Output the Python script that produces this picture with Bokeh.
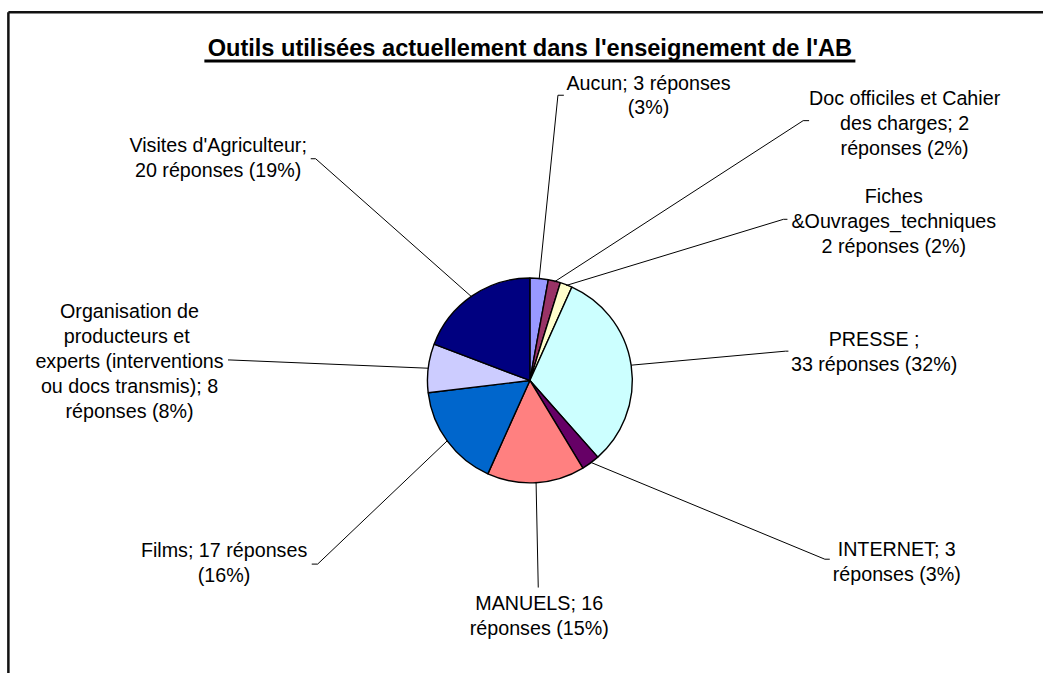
import math
from bokeh.plotting import figure
from bokeh.models import Range1d
from bokeh.core.properties import value
from bokeh.embed import file_html
from bokeh.resources import INLINE

# ---------------- data ----------------
title = "Outils utilisées actuellement dans l'enseignement de l'AB"
categories = ["Aucun", "Doc officiles et Cahier des charges", "Fiches &Ouvrages_techniques",
              "PRESSE", "INTERNET", "MANUELS", "Films",
              "Organisation de producteurs et experts (interventions ou docs transmis)",
              "Visites d'Agriculteur"]
values = [3, 2, 2, 33, 3, 16, 17, 8, 20]
colors = ["#9999FF", "#993366", "#FFFFCC", "#CCFFFF", "#660066",
          "#FF8080", "#0066CC", "#CCCCFF", "#000080"]
label_templates = [
    ["Aucun; {v} réponses", "({p}%)"],
    ["Doc officiles et Cahier", "des charges; {v}", "réponses ({p}%)"],
    ["Fiches", "&Ouvrages_techniques", "{v} réponses ({p}%)"],
    ["PRESSE ;", "{v} réponses ({p}%)"],
    ["INTERNET; {v}", "réponses ({p}%)"],
    ["MANUELS; {v}", "réponses ({p}%)"],
    ["Films; {v} réponses", "({p}%)"],
    ["Organisation de", "producteurs  et", "experts (interventions", "ou docs transmis); {v}", "réponses ({p}%)"],
    ["Visites d'Agriculteur;", "{v} réponses ({p}%)"],
]

# ---------------- layout (reference image pixel coordinates) ----------------
REF_W, REF_H = 1059, 689
W, H = 1043, 673
S = W / REF_W
CX, CY, R = 537.5, 389.0, 104.0
FONT = "Liberation Sans"
LINE_STEP = 25.5
# label block: centre x, first line y
label_pos = [(658, 84), (918, 100), (907, 200), (887, 347), (910, 562),
             (547, 617), (227, 563), (131, 318), (221, 148)]
# leader line elbow and end
leader_pts = [[(566, 97), (572, 97)], [(815, 123), (821, 123)], [(795, 224), (799, 224)],
              [(797, 359), (800, 359)], [(837, 572), (842, 572)], [(546, 601), (546, 601)],
              [(322, 577), (316, 577)], [(233, 368), (231, 368)], [(320, 162), (315, 162)]]

p = figure(width=W, height=H, output_backend="svg", toolbar_location=None,
           x_range=Range1d(0, REF_W), y_range=Range1d(-REF_H, 0),
           x_axis_type=None, y_axis_type=None, min_border=0,
           outline_line_color=None, background_fill_color="white",
           border_fill_color="white")
p.grid.visible = False

total = sum(values)
pcts = [round(v / total * 100) for v in values]

# wedges (clockwise from 12 o'clock)
cum = 0.0
starts, ends, mids = [], [], []
for v in values:
    a0 = cum / total * 2 * math.pi
    cum += v
    a1 = cum / total * 2 * math.pi
    starts.append(math.pi / 2 - a0)
    ends.append(math.pi / 2 - a1)
    mids.append((a0 + a1) / 2)

p.wedge(x=[CX] * len(values), y=[-CY] * len(values), radius=R,
        start_angle=starts, end_angle=ends, direction="clock",
        fill_color=colors, line_color="black", line_width=1.4)

# leader lines
xs, ys = [], []
for m, pts in zip(mids, leader_pts):
    sx = CX + R * math.sin(m)
    sy = CY - R * math.cos(m)
    px = [sx] + [q[0] for q in pts]
    py = [sy] + [q[1] for q in pts]
    xs.append(px)
    ys.append([-y for y in py])
p.multi_line(xs, ys, line_color="black", line_width=1)

# labels
tx, ty, tt = [], [], []
for tpl, v, pc, (lx, ly) in zip(label_templates, values, pcts, label_pos):
    for i, line in enumerate(tpl):
        tx.append(lx)
        ty.append(-(ly + i * LINE_STEP))
        tt.append(line.format(v=v, p=pc))
p.text(x=tx, y=ty, text=tt, text_align="center", text_baseline="middle",
       text_font=value(FONT), text_font_size=f"{20 * S:.1f}px", text_color="black")

# title with underline
p.text(x=[CX], y=[-49], text=[title], text_align="center", text_baseline="middle",
       text_font=value(FONT), text_font_size=f"{24 * S:.1f}px", text_font_style="bold",
       text_color="black")
p.segment(x0=[207], y0=[-62], x1=[868], y1=[-62], line_color="black", line_width=3)

# chart area frame (top and left edges visible in crop)
p.segment(x0=[8, 8], y0=[-12, -12], x1=[REF_W, 8], y1=[-12, -REF_H],
          line_color="#111111", line_width=2.5)

open("out.html", "w").write(file_html(p, INLINE))
